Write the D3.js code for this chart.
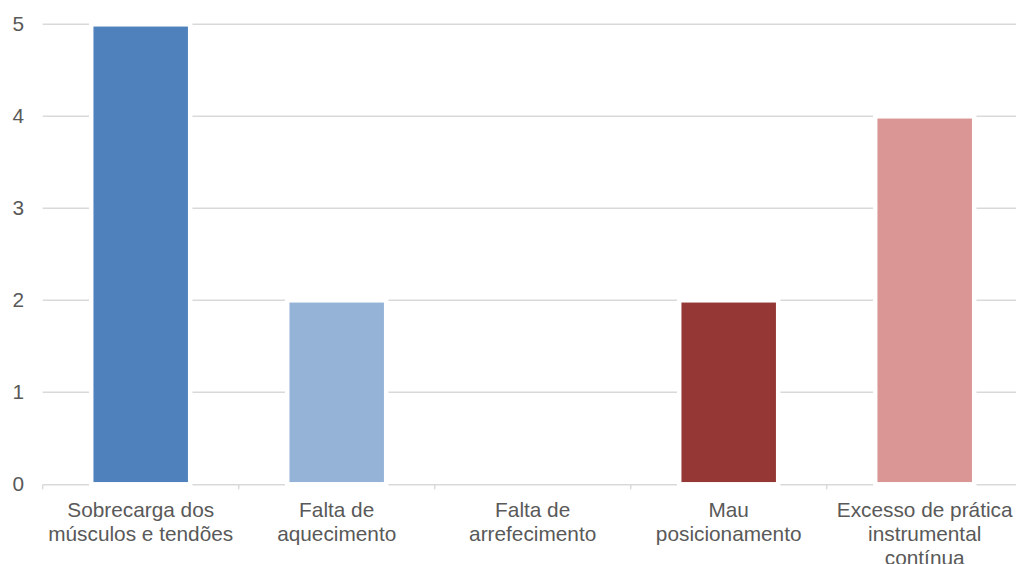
<!DOCTYPE html>
<html>
<head>
<meta charset="utf-8">
<script src="https://cdn.jsdelivr.net/npm/d3@7"></script>
<style>
  html, body { margin: 0; padding: 0; background: #fff; overflow: hidden; }
  svg { display: block; }
  text { font-family: "Liberation Sans", Arial, sans-serif; fill: #595959; }
</style>
</head>
<body>
<svg id="chart" width="1016" height="564"></svg>
<script>
const categories = [
  "Sobrecarga dos músculos e tendões",
  "Falta de aquecimento",
  "Falta de arrefecimento",
  "Mau posicionamento",
  "Excesso de prática instrumental contínua"
];
const categoryLines = [
  ["Sobrecarga dos", "músculos e tendões"],
  ["Falta de", "aquecimento"],
  ["Falta de", "arrefecimento"],
  ["Mau", "posicionamento"],
  ["Excesso de prática", "instrumental", "contínua"]
];
const values = [5, 2, 0, 2, 4];
const barColors = ["#4F81BD", "#95B3D7", "#C0504D", "#953735", "#D99694"];
const yTicks = [0, 1, 2, 3, 4, 5];

(function () {
const svg = d3.select("#chart");
const plotLeft = 42.7, plotRight = 1022.7, plotTop = 24.3, plotBottom = 484.3;
const fontSize = "20.8px";

const x = d3.scaleBand().domain(categories).range([plotLeft, plotRight]).paddingInner(0.495).paddingOuter(0.2475);
const y = d3.scaleLinear().domain([0, 5]).range([plotBottom, plotTop]);

// gridlines
svg.append("g").selectAll("line").data(yTicks.filter(d => d > 0)).join("line")
  .attr("x1", plotLeft).attr("x2", plotRight)
  .attr("y1", d => y(d)).attr("y2", d => y(d))
  .attr("stroke", "#D9D9D9").attr("stroke-width", 1.5);

// x axis
const xAxis = d3.axisBottom(x).tickSize(0).tickFormat("");
const gx = svg.append("g").attr("transform", `translate(0,${plotBottom})`).call(xAxis);
gx.select(".domain").attr("stroke", "#D9D9D9").attr("stroke-width", 1.5);
// category boundary ticks
const bounds = categories.map(c => x(c) - x.step() * x.paddingInner() / 2);
bounds.push(plotRight);
svg.append("g").selectAll("line").data(bounds).join("line")
  .attr("x1", d => d).attr("x2", d => d)
  .attr("y1", plotBottom).attr("y2", plotBottom + 5)
  .attr("stroke", "#D9D9D9").attr("stroke-width", 1.5);

// bars
svg.append("g").selectAll("rect")
  .data(values.map((v, i) => ({v, c: categories[i], col: barColors[i]})).filter(d => d.v > 0))
  .join("rect")
  .attr("x", d => x(d.c))
  .attr("width", x.bandwidth())
  .attr("y", d => y(d.v))
  .attr("height", d => y(0) - y(d.v))
  .attr("fill", d => d.col)
  .attr("stroke", "#fff").attr("stroke-width", 4.5);

// y axis labels
const yAxis = d3.axisLeft(y).tickValues(yTicks).tickSize(0).tickPadding(0).tickFormat(d3.format("d"));
const gy = svg.append("g").attr("transform", `translate(24,0)`).call(yAxis);
gy.select(".domain").remove();
gy.selectAll("text").style("font-size", fontSize).attr("fill", "#595959")
  .attr("font-family", "Liberation Sans, Arial, sans-serif");

// category labels
const lab = svg.append("g");
categories.forEach((c, i) => {
  const cx = x(c) + x.bandwidth() / 2;
  const t = lab.append("text").attr("x", cx).attr("y", 516.5)
    .attr("text-anchor", "middle").style("font-size", fontSize);
  categoryLines[i].forEach((line, j) => {
    t.append("tspan").attr("x", cx).attr("dy", j === 0 ? 0 : 24).text(line);
  });
});
})();
</script>
</body>
</html>
